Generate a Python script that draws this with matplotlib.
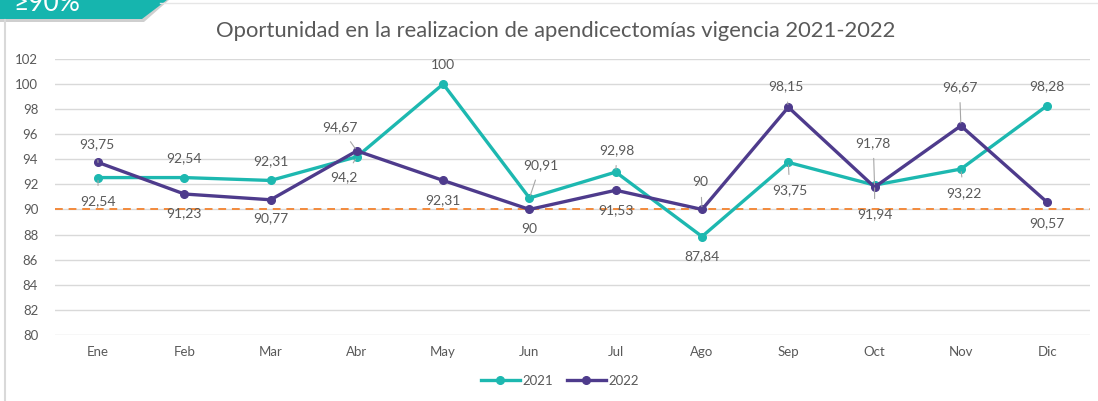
import matplotlib.pyplot as plt
import matplotlib.patches as patches
from matplotlib.lines import Line2D

# %% Data
months = ["Ene", "Feb", "Mar", "Abr", "May", "Jun", "Jul", "Ago", "Sep", "Oct", "Nov", "Dic"]
values_2021 = [92.54, 92.54, 92.31, 94.2, 100, 90.91, 92.98, 87.84, 93.75, 91.94, 93.22, 98.28]
values_2022 = [93.75, 91.23, 90.77, 94.67, 92.31, 90, 91.53, 90, 98.15, 91.78, 96.67, 90.57]
labels_2021 = ["92,54", "92,54", "92,31", "94,2", "100", "90,91", "92,98", "87,84", "93,75", "91,94", "93,22", "98,28"]
labels_2022 = ["93,75", "91,23", "90,77", "94,67", "92,31", "90", "91,53", "90", "98,15", "91,78", "96,67", "90,57"]
target = 90
y_ticks = list(range(80, 103, 2))

# %% Styling
plt.rcParams['font.family'] = ['Lato', 'DejaVu Sans']
teal = "#1db8b0"
purple = "#4e3b8c"
orange = "#f28a3c"
text_gray = "#595959"

# label offsets (pt) and whether a leader line is drawn
offs_2021 = [(0, -17, True), (0, 14, False), (0, 14, False), (-9, -15, True), (0, 14, False), (8, 24, True),
             (1, 16, True), (0, -14, False), (1, -20, True), (0, -21, True), (2, -17, True), (0, 14, False)]
offs_2022 = [(-1, 13, True), (0, -14, False), (0, -13, False), (-12, 17, True), (0, -14, False), (0, -14, False),
             (0, -14, False), (-1, 20, True), (-2, 15, True), (-1, 32, True), (-1, 28, True), (0, -15, False)]

fig = plt.figure(figsize=(10.98, 4.01), dpi=100)
ax = fig.add_axes([0.050, 0.165, 0.943, 0.688])

x = list(range(len(months)))
ax.plot(x, values_2021, color=teal, lw=2.4, marker="o", ms=5.5, label="2021", zorder=3)
ax.plot(x, values_2022, color=purple, lw=2.4, marker="o", ms=5.5, label="2022", zorder=4)
ax.axhline(target, color=orange, lw=1.4, ls=(0, (4, 3)), zorder=2)

for vals, labs, offs in [(values_2021, labels_2021, offs_2021), (values_2022, labels_2022, offs_2022)]:
    for i, (v, lab) in enumerate(zip(vals, labs)):
        dx, dy, leader = offs[i]
        ax.annotate(lab, (i, v), xytext=(dx, dy), textcoords="offset points",
                    ha="center", va="center", fontsize=10, color=text_gray,
                    arrowprops=dict(arrowstyle="-", color="#a6a6a6", lw=0.8, shrinkA=5, shrinkB=2) if leader else None,
                    zorder=5)

ax.set_xlim(-0.5, len(months) - 0.5)
ax.set_ylim(80, 102)
ax.set_yticks(y_ticks)
ax.set_xticks(x)
ax.set_xticklabels(months)
ax.tick_params(axis="both", length=0, labelsize=9.5, colors=text_gray)
ax.tick_params(axis="y", pad=12)
ax.tick_params(axis="x", pad=8)
ax.grid(axis="y", color="#d9d9d9", lw=1)
ax.set_axisbelow(True)
for s in ax.spines.values():
    s.set_visible(False)

fig.text(0.506, 0.922, "Oportunidad en la realizacion de apendicectomías vigencia 2021-2022",
         ha="center", va="center", fontsize=15.8, color=text_gray)

handles = [Line2D([0], [0], color=teal, lw=2.4, marker="o", ms=5.5),
           Line2D([0], [0], color=purple, lw=2.4, marker="o", ms=5.5)]
fig.legend(handles, ["2021", "2022"], loc="center", bbox_to_anchor=(0.51, 0.05), ncol=2,
           frameon=False, fontsize=9.5, labelcolor=text_gray, handlelength=3, columnspacing=1.0, handletextpad=0.2)

# frame lines and banner
fig.add_artist(Line2D([5 / 1098, 5 / 1098], [0, 1 - 20 / 401], color="#d9d9d9", lw=1.5))
fig.add_artist(Line2D([160 / 1098, 1], [1 - 3 / 401, 1 - 3 / 401], color="#e6e6e6", lw=1))
shadow = patches.Polygon([(0, 1 - 22 / 401), (144 / 1098, 1 - 22 / 401), (169 / 1098, 1), (0, 1)],
                         closed=True, transform=fig.transFigure, facecolor="#cfcfcf", edgecolor="none")
banner = patches.Polygon([(0, 1 - 19 / 401), (142 / 1098, 1 - 19 / 401), (167 / 1098, 1), (0, 1)],
                         closed=True, transform=fig.transFigure, facecolor="#16b5ae", edgecolor="none")
fig.add_artist(shadow)
fig.add_artist(banner)
fig.text(13 / 1098, 1 - 11 / 401, "≥90%", ha="left", va="baseline", fontsize=19, color="white")

fig.savefig("out.png", dpi=100)
